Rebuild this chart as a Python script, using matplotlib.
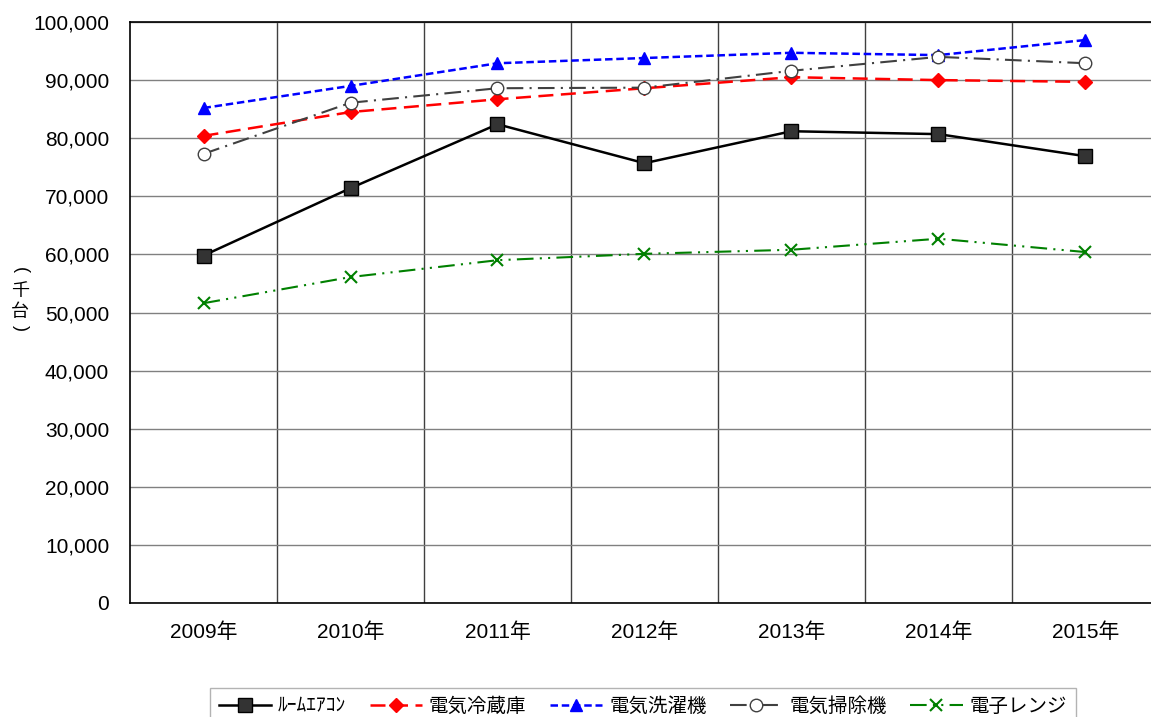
import matplotlib.pyplot as plt
from matplotlib.ticker import FuncFormatter, MultipleLocator

plt.rcParams['font.family'] = ['Liberation Sans', 'Noto Sans CJK JP', 'DejaVu Sans']

# --- Datos ---
anios = ['2009年', '2010年', '2011年', '2012年', '2013年', '2014年', '2015年']
aire_acondicionado = [59800, 71400, 82400, 75700, 81200, 80700, 76900]
refrigerador = [80400, 84500, 86700, 88600, 90500, 90000, 89700]
lavadora = [85200, 89000, 92900, 93800, 94700, 94300, 96900]
aspiradora = [77300, 86100, 88600, 88700, 91600, 94000, 92900]
microondas = [51600, 56100, 59000, 60100, 60800, 62700, 60400]

nombres = ['ﾙｰﾑｴｱｺﾝ', '電気冷蔵庫', '電気洗濯機', '電気掃除機', '電子レンジ']

fig = plt.figure(figsize=(11.51, 7.17), dpi=100)
ax = fig.add_axes([130 / 1151, 1 - 603 / 717, 1029 / 1151, 581 / 717])

x = list(range(len(anios)))

ax.plot(x, aire_acondicionado, color='black', linestyle='-', linewidth=1.8,
        marker='s', markersize=10, markerfacecolor='#333333', markeredgecolor='black',
        label=nombres[0])
ax.plot(x, refrigerador, color='red', linestyle=(0, (6, 3)), linewidth=1.8,
        marker='D', markersize=7, markerfacecolor='red', markeredgecolor='red',
        label=nombres[1])
ax.plot(x, lavadora, color='blue', linestyle=(0, (3, 1.5)), linewidth=1.8,
        marker='^', markersize=9, markerfacecolor='blue', markeredgecolor='blue',
        label=nombres[2])
ax.plot(x, aspiradora, color='#404040', linestyle=(0, (8, 3, 1, 3)), linewidth=1.5,
        marker='o', markersize=9, markerfacecolor='white', markeredgecolor='#404040',
        label=nombres[3])
ax.plot(x, microondas, color='green', linestyle=(0, (8, 3, 1, 3, 1, 3)), linewidth=1.5,
        marker='x', markersize=9, markeredgewidth=1.5, label=nombres[4])

ax.set_xlim(-0.5, len(anios) - 0.5)
ax.set_ylim(0, 100000)
ax.yaxis.set_major_locator(MultipleLocator(10000))
ax.yaxis.set_major_formatter(FuncFormatter(lambda v, p: f'{int(v):,}'))
ax.set_xticks(x)
ax.set_xticklabels(anios)
ax.tick_params(axis='both', length=0, labelsize=15, colors='black')
ax.tick_params(axis='x', pad=14)
ax.tick_params(axis='y', pad=15)

# rejilla
ax.yaxis.grid(True, color='#808080', linewidth=1)
for i in range(1, len(anios)):
    ax.axvline(i - 0.5, color='#404040', linewidth=1, zorder=0.5)
ax.set_axisbelow(True)

for lado in ['left', 'bottom', 'top', 'right']:
    ax.spines[lado].set_color('black')
    ax.spines[lado].set_linewidth(1.2)

# etiqueta vertical del eje y
fig.text(20 / 1151, 1 - 270 / 717, '(', fontsize=13, rotation=-90, ha='center', va='center')
fig.text(20 / 1151, 1 - 292 / 717, '千', fontsize=13, ha='center', va='center')
fig.text(20 / 1151, 1 - 312 / 717, '台', fontsize=13, ha='center', va='center')
fig.text(20 / 1151, 1 - 328 / 717, ')', fontsize=13, rotation=-90, ha='center', va='center')

fig.legend(loc='upper left', bbox_to_anchor=(210 / 1151, 1 - 688 / 717), ncol=5,
           fontsize=14, frameon=True, edgecolor='#a0a0a0', fancybox=False,
           handlelength=2.7, columnspacing=1.2, handletextpad=0.35,
           borderpad=0.45, borderaxespad=0)

fig.savefig('out.png', dpi=100)
